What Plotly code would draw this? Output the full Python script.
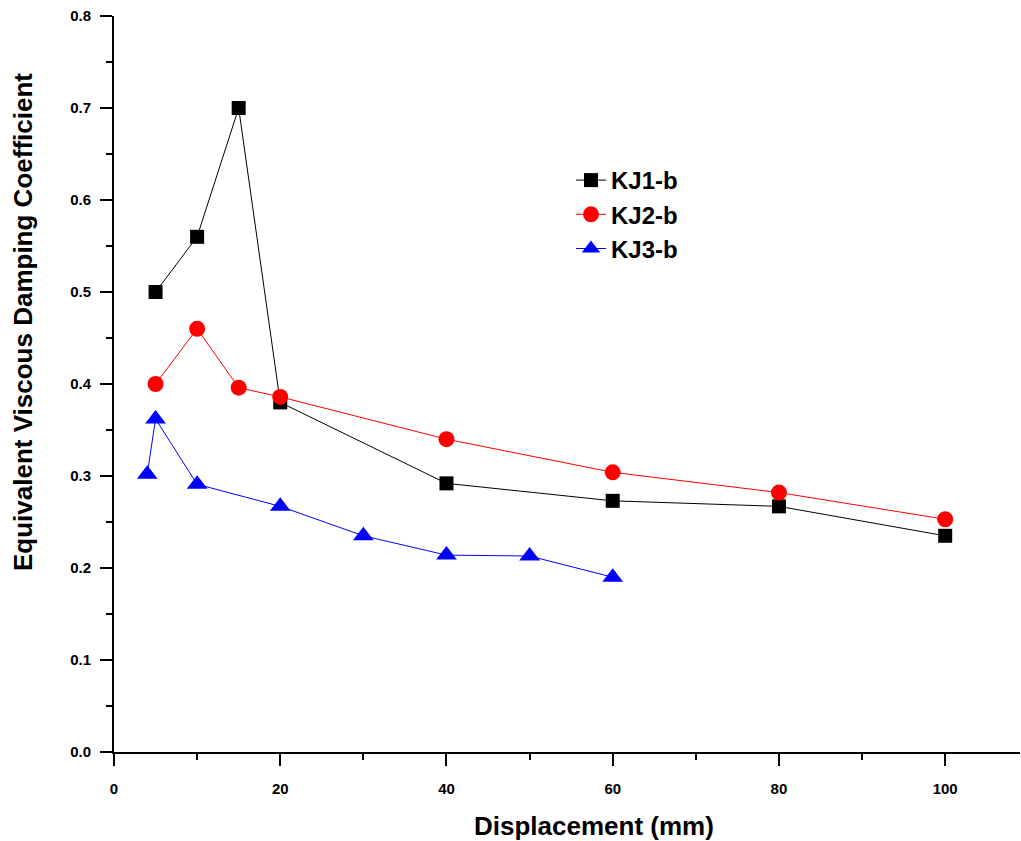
import plotly.graph_objects as go

kj1_x = [5, 10, 15, 20, 40, 60, 80, 100]
kj1_y = [0.500, 0.560, 0.700, 0.380, 0.292, 0.273, 0.267, 0.235]

kj2_x = [5, 10, 15, 20, 40, 60, 80, 100]
kj2_y = [0.400, 0.460, 0.396, 0.386, 0.340, 0.304, 0.282, 0.253]

kj3_x = [4, 5, 10, 20, 30, 40, 50, 60]
kj3_y = [0.302, 0.362, 0.291, 0.267, 0.235, 0.214, 0.213, 0.190]

names = ["KJ1-b", "KJ2-b", "KJ3-b"]

FONT = "Liberation Sans, Arial, sans-serif"

fig = go.Figure()
fig.add_trace(go.Scatter(x=kj1_x, y=kj1_y, name=names[0], mode="lines+markers",
                         line=dict(color="black", width=1),
                         marker=dict(symbol="square", size=14, color="black")))
fig.add_trace(go.Scatter(x=kj2_x, y=kj2_y, name=names[1], mode="lines+markers",
                         line=dict(color="red", width=1),
                         marker=dict(symbol="circle", size=16, color="red")))
fig.add_trace(go.Scatter(x=kj3_x, y=kj3_y, name=names[2], mode="lines+markers",
                         line=dict(color="blue", width=1),
                         marker=dict(symbol="triangle-up", size=18, color="blue")))

axis_common = dict(showgrid=False, zeroline=False, showline=True, linecolor="black",
                   linewidth=2, ticks="outside", ticklen=12, tickwidth=2, tickcolor="black",
                   tickfont=dict(family=FONT, size=15, color="black", weight="bold"))

fig.update_xaxes(range=[0, 109], tickvals=[0, 20, 40, 60, 80, 100],
                 minor=dict(ticks="outside", ticklen=6, tickwidth=2, tickcolor="black", dtick=10, tick0=0),
                 ticklabelstandoff=10, **axis_common)
fig.update_yaxes(range=[0, 0.8], dtick=0.1, tickformat=".1f",
                 minor=dict(ticks="outside", ticklen=6, tickwidth=2, tickcolor="black", dtick=0.05, tick0=0),
                 ticklabelstandoff=6, **axis_common)

fig.add_annotation(text="<b>Displacement (mm)</b>", xref="paper", yref="paper",
                   x=(594 - 114) / 906, y=(752 - 826) / 736, showarrow=False,
                   xanchor="center", yanchor="middle",
                   font=dict(family=FONT, size=26, color="black"))
fig.add_annotation(text="<b>Equivalent Viscous Damping Coefficient</b>", xref="paper", yref="paper",
                   x=(23 - 114) / 906, y=(752 - 322) / 736, showarrow=False, textangle=-90,
                   xanchor="center", yanchor="middle",
                   font=dict(family=FONT, size=26, color="black"))

fig.update_layout(
    width=1021, height=841,
    margin=dict(l=114, r=1, t=16, b=89),
    plot_bgcolor="white", paper_bgcolor="white",
    showlegend=True,
    legend=dict(x=(571 - 114) / 906, y=(752 - 158) / 736, xanchor="left", yanchor="top",
                bgcolor="rgba(0,0,0,0)",
                font=dict(family=FONT, size=24, color="black", weight="bold"),
                tracegroupgap=0),
)

fig.write_html("out.html", config={"displayModeBar": False},
               post_script="document.body.style.margin='0';document.body.style.padding='0';")
